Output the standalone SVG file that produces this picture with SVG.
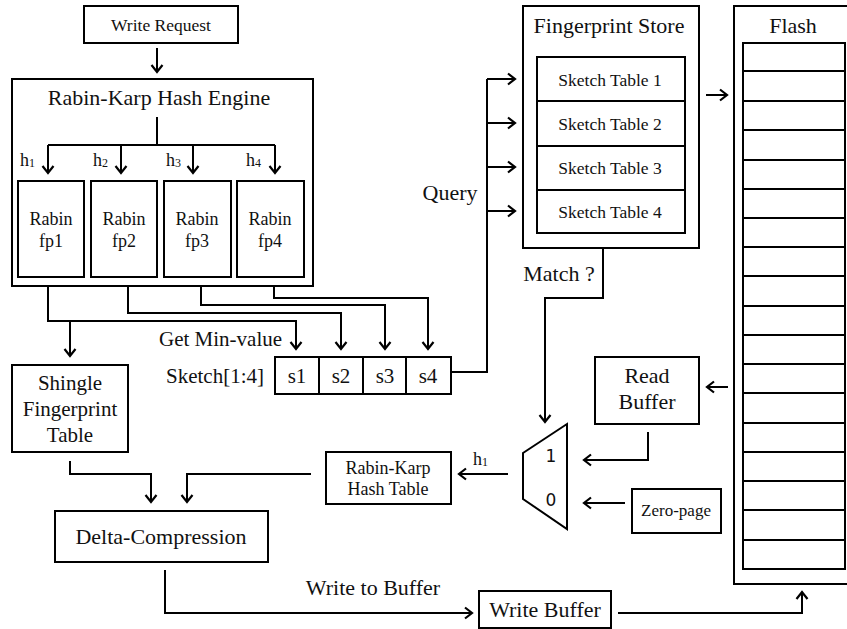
<svg xmlns="http://www.w3.org/2000/svg" width="847" height="629" viewBox="0 0 847 629" font-family="'Liberation Serif', 'Times New Roman', serif">
<style>
  .box { fill: #fff; stroke: #000; stroke-width: 2; }
  .ln { fill: none; stroke: #000; stroke-width: 2; }
  .arr { fill: none; stroke: #000; stroke-width: 2; marker-end: url(#ah); }
  text { fill: #111; text-anchor: middle; font-family: 'Liberation Serif', 'Times New Roman', serif; }
  .st { text-anchor: start; }
  .t17 { font-size: 17px; }
  .t18 { font-size: 18px; }
  .t21 { font-size: 21px; }
  .t22 { font-size: 22px; }
  .sans { font-family: 'DejaVu Sans', 'Liberation Sans', sans-serif; font-size: 17px; }
</style>
<defs>
  <marker id="ah" markerUnits="userSpaceOnUse" markerWidth="14" markerHeight="14" refX="9" refY="7" orient="auto">
    <path d="M2,1.5 L9,7 L2,12.5" fill="none" stroke="#000" stroke-width="2.2"/>
  </marker>
</defs>
<rect width="847" height="629" fill="#fff"/>

<g id="write-request">
  <rect class="box" x="84" y="6" width="154" height="37"/>
  <text x="161" y="31" font-size="17.5">Write Request</text>
</g>

<g id="hash-engine">
  <rect class="box" x="12" y="79" width="301" height="207"/>
  <text class="t22" x="159" y="105">Rabin-Karp Hash Engine</text>
  <text class="t18 st" x="20" y="166">h<tspan font-size="12" dy="1">1</tspan></text>
  <text class="t18 st" x="93" y="166">h<tspan font-size="12" dy="1">2</tspan></text>
  <text class="t18 st" x="166" y="166">h<tspan font-size="12" dy="1">3</tspan></text>
  <text class="t18 st" x="246" y="166">h<tspan font-size="12" dy="1">4</tspan></text>
</g>

<g id="fp1">
  <rect class="box" x="18" y="181" width="66" height="96"/>
  <text class="t18" x="51" y="225">Rabin</text>
  <text class="t18" x="51" y="247">fp1</text>
</g>
<g id="fp2">
  <rect class="box" x="91" y="181" width="66" height="96"/>
  <text class="t18" x="124" y="225">Rabin</text>
  <text class="t18" x="124" y="247">fp2</text>
</g>
<g id="fp3">
  <rect class="box" x="164" y="181" width="67" height="96"/>
  <text class="t18" x="197" y="225">Rabin</text>
  <text class="t18" x="197" y="247">fp3</text>
</g>
<g id="fp4">
  <rect class="box" x="237" y="181" width="67" height="96"/>
  <text class="t18" x="270" y="225">Rabin</text>
  <text class="t18" x="270" y="247">fp4</text>
</g>

<g id="sketch">
  <text class="t21 st" x="159" y="346">Get Min-value</text>
  <text class="t21 st" x="166" y="383">Sketch[1:4]</text>
  <rect class="box" x="275" y="357" width="176" height="37"/>
  <line class="ln" x1="319" y1="357" x2="319" y2="394"/>
  <line class="ln" x1="363" y1="357" x2="363" y2="394"/>
  <line class="ln" x1="406" y1="357" x2="406" y2="394"/>
  <text class="t21" x="297" y="383">s1</text>
  <text class="t21" x="341" y="383">s2</text>
  <text class="t21" x="385" y="383">s3</text>
  <text class="t21" x="428" y="383">s4</text>
</g>

<g id="shingle">
  <rect class="box" x="12" y="365" width="116" height="87"/>
  <text class="t21" x="70" y="390">Shingle</text>
  <text class="t21" x="70" y="416">Fingerprint</text>
  <text class="t21" x="70" y="442">Table</text>
</g>

<g id="delta">
  <rect class="box" x="55" y="511" width="213" height="51"/>
  <text class="t22" x="161" y="544">Delta-Compression</text>
</g>

<g id="rk-hash-table">
  <rect class="box" x="326" y="452" width="125" height="52"/>
  <text class="t18" x="388" y="474">Rabin-Karp</text>
  <text class="t18" x="388" y="495">Hash Table</text>
</g>

<g id="write-buffer">
  <rect class="box" x="479" y="591" width="132" height="37"/>
  <text class="t22" x="545" y="617">Write Buffer</text>
</g>

<g id="fingerprint-store">
  <rect class="box" x="523" y="6" width="176" height="242"/>
  <text class="t22" x="609" y="33">Fingerprint Store</text>
  <rect class="box" x="537" y="57" width="148" height="176"/>
  <line class="ln" x1="537" y1="101" x2="685" y2="101"/>
  <line class="ln" x1="537" y1="146" x2="685" y2="146"/>
  <line class="ln" x1="537" y1="190" x2="685" y2="190"/>
  <text x="610" y="86" font-size="17.5">Sketch Table 1</text>
  <text x="610" y="130" font-size="17.5">Sketch Table 2</text>
  <text x="610" y="174" font-size="17.5">Sketch Table 3</text>
  <text x="610" y="218" font-size="17.5">Sketch Table 4</text>
</g>

<g id="flash">
  <rect class="box" x="734" y="6" width="120" height="578"/>
  <text class="t22" x="793" y="33">Flash</text>
  <rect class="box" x="743" y="43" width="102" height="526"/>
  <path class="ln" d="M743,71H845M743,101H845M743,130H845M743,160H845M743,189H845M743,218H845M743,247H845M743,276H845M743,306H845M743,335H845M743,364H845M743,393H845M743,423H845M743,452H845M743,481H845M743,510H845M743,540H845"/>
</g>

<g id="read-buffer">
  <rect class="box" x="595" y="357" width="104" height="67"/>
  <text class="t22" x="647" y="383">Read</text>
  <text class="t22" x="647" y="409">Buffer</text>
</g>

<g id="zero-page">
  <rect class="box" x="632" y="489" width="89" height="44"/>
  <text class="t17" x="676" y="516">Zero-page</text>
</g>

<g id="mux">
  <polygon class="box" points="523,453 567,424 567,529 523,499"/>
  <text class="sans" x="551" y="462">1</text>
  <text class="sans" x="551" y="506">0</text>
</g>

<g id="labels">
  <text class="t22" x="450" y="200">Query</text>
  <text class="t22" x="559" y="281">Match ?</text>
  <text class="t18 st" x="473" y="465">h<tspan font-size="12" dy="1">1</tspan></text>
  <text class="t22" x="373" y="595">Write to Buffer</text>
</g>

<g id="connectors">
  <line class="arr" x1="157" y1="48" x2="157" y2="72"/>
  <path class="ln" d="M157,117V145M48,145H275"/>
  <line class="arr" x1="48" y1="145" x2="48" y2="173"/>
  <line class="arr" x1="121" y1="145" x2="121" y2="173"/>
  <line class="arr" x1="193" y1="145" x2="193" y2="173"/>
  <line class="arr" x1="275" y1="145" x2="275" y2="173"/>
  <path class="arr" d="M48,286V321H296V349"/>
  <line class="arr" x1="70" y1="321" x2="70" y2="356"/>
  <path class="arr" d="M128,286V313H341V349"/>
  <path class="arr" d="M201,286V305H385V349"/>
  <path class="arr" d="M274,286V298H428V349"/>
  <path class="ln" d="M451,372H487V79"/>
  <line class="arr" x1="487" y1="79" x2="515" y2="79"/>
  <line class="arr" x1="487" y1="123" x2="515" y2="123"/>
  <line class="arr" x1="487" y1="167" x2="515" y2="167"/>
  <line class="arr" x1="487" y1="211" x2="515" y2="211"/>
  <line class="arr" x1="706" y1="95" x2="727" y2="95"/>
  <path class="arr" d="M603,248V298H545V422"/>
  <line class="arr" x1="728" y1="387" x2="707" y2="387"/>
  <path class="arr" d="M648,432V460H584"/>
  <line class="arr" x1="625" y1="503" x2="584" y2="503"/>
  <line class="arr" x1="508" y1="474" x2="459" y2="474"/>
  <path class="arr" d="M311,474H187V502"/>
  <path class="arr" d="M70,461V474H151V502"/>
  <path class="arr" d="M165,570V613H472"/>
  <path class="arr" d="M618,613H802V592"/>
</g>
</svg>
